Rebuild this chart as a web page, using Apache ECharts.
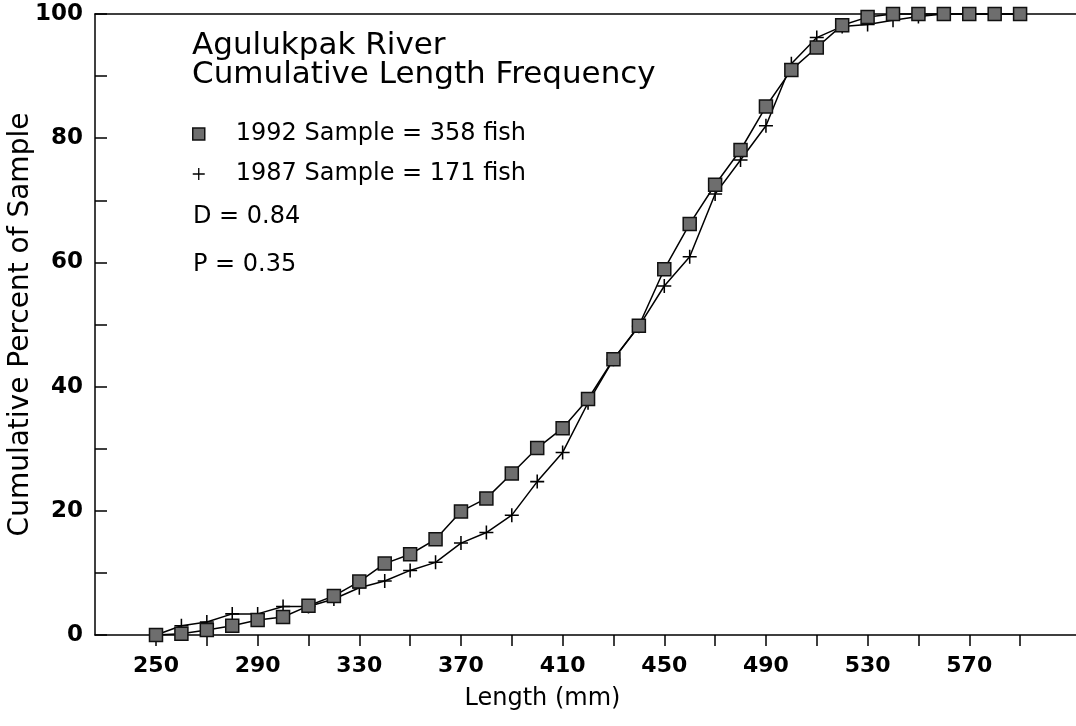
<!DOCTYPE html>
<html lang="en">
<head>
<meta charset="UTF-8" />
<title>Agulukpak River Cumulative Length Frequency</title>
<script src="https://cdn.jsdelivr.net/npm/echarts@6/dist/echarts.min.js"></script>
<style>
  html, body { margin: 0; padding: 0; background: #fff; }
  #main { width: 1076px; height: 726px; }
</style>
</head>
<body>
<div id="main"></div>
<script>
// length classes (mm)
var lengths = [250, 260, 270, 280, 290, 300, 310, 320, 330, 340, 350, 360, 370, 380, 390, 400, 410, 420,
               430, 440, 450, 460, 470, 480, 490, 500, 510, 520, 530, 540, 550, 560, 570, 580, 590];
// cumulative percent, 1992 sample (358 fish)
var pct1992 = [0, 0.2, 0.8, 1.5, 2.4, 2.9, 4.7, 6.3, 8.6, 11.5, 13.0, 15.4, 19.9, 22.0, 26.0, 30.1, 33.3, 38.0,
               44.4, 49.8, 58.9, 66.2, 72.5, 78.1, 85.1, 91.0, 94.6, 98.2, 99.5, 100, 100, 100, 100, 100, 100];
// cumulative percent, 1987 sample (171 fish)
var pct1987 = [0, 1.5, 2.1, 3.4, 3.4, 4.6, 4.6, 5.8, 7.6, 8.7, 10.4, 11.7, 14.8, 16.5, 19.3, 24.7, 29.4, 37.4,
               44.4, 49.7, 56.2, 60.9, 71.0, 76.5, 82.0, 92.0, 96.2, 98.0, 98.3, 99.0, 99.6, 100, 100, 100, 100];
var xTicks = [250, 270, 290, 310, 330, 350, 370, 390, 410, 430, 450, 470, 490, 510, 530, 550, 570, 590];
var xLabels = [250, 290, 330, 370, 410, 450, 490, 530, 570];

var font = 'DejaVu Sans';
var plusPath = 'path://M-0.11,-1H0.11V-0.11H1V0.11H0.11V1H-0.11V0.11H-1V-0.11H-0.11Z';

function pairs(xs, ys) {
  return xs.map(function (x, i) { return [x, ys[i]]; });
}

var myChart = echarts.init(document.getElementById('main'));
myChart.setOption({
  animation: false,
  textStyle: { fontFamily: font, color: '#000' },
  title: [
    {
      text: 'Agulukpak River\nCumulative Length Frequency',
      left: 187, top: 26,
      textStyle: { fontFamily: font, fontSize: 31, fontWeight: 'normal', lineHeight: 29, color: '#000' }
    },
    {
      text: 'D = 0.84', left: 188, top: 198,
      textStyle: { fontFamily: font, fontSize: 24, fontWeight: 'normal', lineHeight: 28, color: '#000' }
    },
    {
      text: 'P = 0.35', left: 188, top: 246,
      textStyle: { fontFamily: font, fontSize: 24, fontWeight: 'normal', lineHeight: 28, color: '#000' }
    }
  ],
  legend: {
    orient: 'vertical',
    left: 187, top: 115,
    itemWidth: 12, itemHeight: 12, itemGap: 12,
    textStyle: { fontFamily: font, fontSize: 24, lineHeight: 28, color: '#000', padding: [0, 0, 0, 26] },
    data: [
      { name: '1992 Sample = 358 fish', icon: 'rect',
        itemStyle: { color: '#6e6e6e', borderColor: '#111', borderWidth: 1.5 } },
      { name: '1987 Sample = 171 fish', icon: plusPath,
        itemStyle: { color: '#000', borderWidth: 0 } }
    ]
  },
  grid: { left: 95, right: 0, top: 14, bottom: 91, outerBoundsMode: 'none', containLabel: false },
  xAxis: [
    {
      type: 'value', min: 226, max: 612,
      name: 'Length (mm)', nameLocation: 'middle', nameGap: 52, nameMoveOverlap: false,
      nameTextStyle: { fontFamily: font, fontSize: 24, color: '#000', padding: [0, 86, 0, 0] },
      axisLine: { show: true, lineStyle: { color: '#000', width: 1.5 } },
      axisTick: { show: true, inside: false, length: 11, customValues: xTicks,
                  lineStyle: { color: '#000', width: 1.5 } },
      axisLabel: { customValues: xLabels, margin: 20, fontFamily: font, fontSize: 22,
                   fontWeight: 'bold', color: '#000' },
      splitLine: { show: false }
    },
    {
      type: 'value', min: 226, max: 612, position: 'top',
      axisLine: { show: true, lineStyle: { color: '#000', width: 1.5 } },
      axisTick: { show: false }, axisLabel: { show: false }, splitLine: { show: false }
    }
  ],
  yAxis: {
    type: 'value', min: 0, max: 100, interval: 10,
    name: 'Cumulative Percent of Sample', nameLocation: 'middle', nameGap: 60, nameMoveOverlap: false,
    nameTextStyle: { fontFamily: font, fontSize: 28, color: '#000' },
    axisLine: { show: true, lineStyle: { color: '#000', width: 1.5 } },
    axisTick: { show: true, inside: true, length: 12, lineStyle: { color: '#000', width: 1.5 } },
    axisLabel: {
      margin: 12, fontFamily: font, fontSize: 23, fontWeight: 'bold', color: '#000',
      formatter: function (v) { return v % 20 === 0 ? String(v) : ''; }
    },
    splitLine: { show: false }
  },
  series: [
    {
      name: '1987 Sample = 171 fish',
      type: 'line',
      data: pairs(lengths, pct1987),
      symbol: plusPath, symbolSize: 14, clip: false,
      lineStyle: { color: '#000', width: 1.5 },
      itemStyle: { color: '#000' }
    },
    {
      name: '1992 Sample = 358 fish',
      type: 'line',
      data: pairs(lengths, pct1992),
      symbol: 'rect', symbolSize: 13, clip: false,
      lineStyle: { color: '#000', width: 1.5 },
      itemStyle: { color: '#6e6e6e', borderColor: '#111', borderWidth: 1.5 }
    }
  ]
});
</script>
</body>
</html>
